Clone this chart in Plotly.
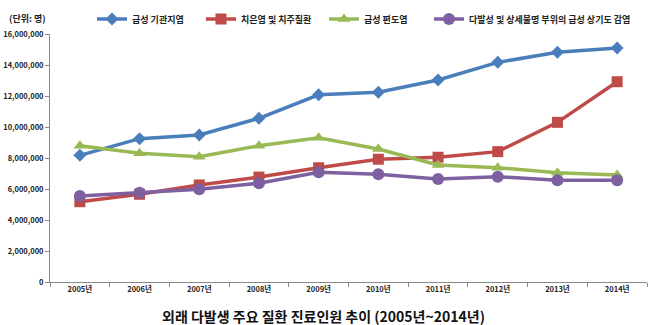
import plotly.graph_objects as go

years = ["2005년", "2006년", "2007년", "2008년", "2009년", "2010년", "2011년", "2012년", "2013년", "2014년"]
bronchitis = [8170000, 9250000, 9480000, 10560000, 12080000, 12240000, 13030000, 14170000, 14820000, 15100000]
hemorrhoids = [5180000, 5660000, 6260000, 6770000, 7370000, 7920000, 8050000, 8410000, 10300000, 12920000]
tonsillitis = [8790000, 8300000, 8080000, 8790000, 9310000, 8580000, 7550000, 7370000, 7050000, 6900000]
uri = [5550000, 5760000, 5980000, 6370000, 7080000, 6950000, 6650000, 6790000, 6560000, 6560000]

names = ["급성 기관지염", "치은염 및 치주질환", "급성 편도염", "다발성 및 상세불명 부위의 급성 상기도 감염"]
colors = ["#4A7EBB", "#BE4B48", "#98B954", "#7D60A0"]
symbols = ["diamond", "square", "triangle-up", "circle"]
sizes = [10, 11, 11, 12]
series = [bronchitis, hemorrhoids, tonsillitis, uri]

FONT = "Noto Sans CJK KR"
W, H = 650, 325
ml, mr, mt, mb = 50, 3, 34, 43

fig = go.Figure()
legend_x = [96, 205, 328, 433]
for i, (nm, c, s, sz, v) in enumerate(zip(names, colors, symbols, sizes, series)):
    lg = "legend" if i == 0 else f"legend{i+1}"
    fig.add_trace(go.Scatter(
        x=years, y=v, name=nm, mode="lines+markers",
        line=dict(color=c, width=3.5),
        marker=dict(symbol=s, size=sz, color=c),
        legend=lg,
    ))

legend_common = dict(
    orientation="h", xref="container", yref="container",
    xanchor="left", yanchor="middle", y=1 - 19 / H,
    font=dict(family=FONT, size=9, color="#222", weight="bold"),
    bgcolor="rgba(0,0,0,0)", itemwidth=30, tracegroupgap=0,
    borderwidth=0,
)
layout_legends = {}
for i, lx in enumerate(legend_x):
    key = "legend" if i == 0 else f"legend{i+1}"
    layout_legends[key] = dict(legend_common, x=(lx - 4) / W)

fig.update_layout(
    width=W, height=H,
    margin=dict(l=ml, r=mr, t=mt, b=mb, autoexpand=False),
    paper_bgcolor="white", plot_bgcolor="white",
    showlegend=True,
    **layout_legends,
    xaxis=dict(
        type="category", range=[-0.5, 9.5], tickson="boundaries",
        ticks="outside", ticklen=4, tickcolor="#888",
        showline=True, linecolor="#888", linewidth=1,
        showgrid=False, zeroline=False, automargin=False,
        tickfont=dict(family=FONT, size=7.5, color="#222", weight="bold"),
    ),
    yaxis=dict(
        range=[0, 16000000], dtick=2000000, tickformat=",",
        ticks="outside", ticklen=4, tickcolor="#888",
        showline=True, linecolor="#888", linewidth=1,
        showgrid=False, zeroline=False, automargin=False,
        tickfont=dict(family=FONT, size=7.5, color="#222", weight="bold"),
    ),
    annotations=[
        dict(text="(단위: 명)", xref="paper", yref="paper", x=-ml / (W - ml - mr) + 7 / (W - ml - mr),
             y=1 + 15 / (H - mt - mb), xanchor="left", yanchor="middle", showarrow=False,
             font=dict(family=FONT, size=9, color="#222", weight="bold")),
        dict(text="외래 다발생 주요 질환 진료인원 추이 (2005년~2014년)", xref="paper", yref="paper",
             x=(323 - ml) / (W - ml - mr), y=-(316 - (H - mb)) / (H - mt - mb),
             xanchor="center", yanchor="middle", showarrow=False,
             font=dict(family=FONT, size=14, color="#111", weight="bold")),
    ],
)

fig.write_html("out.html")
